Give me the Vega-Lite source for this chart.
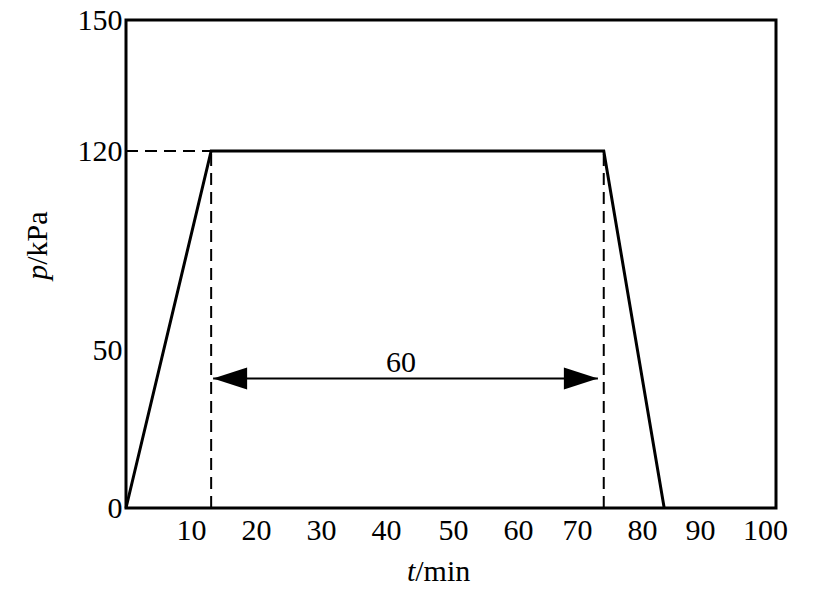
{
  "$schema": "https://vega.github.io/schema/vega-lite/v6.json",
  "width": 650,
  "height": 488,
  "autosize": {"type": "none"},
  "padding": {"left": 126, "top": 20, "right": 56, "bottom": 83},
  "background": "white",
  "config": {
    "view": {"stroke": "black", "strokeWidth": 3},
    "font": "Liberation Serif",
    "axis": {"grid": false, "ticks": false, "domain": false, "labelFont": "Liberation Serif", "labelFontSize": 30, "labelColor": "black", "labelFlush": false, "labelOverlap": false}
  },
  "datasets": {
    "profile": [
      {"t": 0, "p": 0},
      {"t": 13.1, "p": 120},
      {"t": 73.5, "p": 120},
      {"t": 82.8, "p": 0}
    ],
    "hdash": [
      {"t": 0, "t2": 13.1, "p": 120}
    ],
    "vdash": [
      {"t": 13.1, "p": 0, "p2": 120},
      {"t": 73.5, "p": 0, "p2": 120}
    ],
    "arrow": [
      {"t": 13.4, "t2": 72.6, "p": 41, "label": "60", "mid": 42.3}
    ]
  },
  "layer": [
    {
      "data": {"name": "profile"},
      "mark": {"type": "line", "color": "black", "strokeWidth": 3, "strokeJoin": "miter", "clip": false},
      "encoding": {
        "x": {"field": "t", "type": "quantitative",
          "scale": {"domain": [0, 100], "nice": false, "zero": false},
          "axis": {"title": null, "values": [10, 20, 30, 40, 50, 60, 70, 80, 90, 100], "labelPadding": 7, "labelFlush": false,
            "labelOffset": {"condition": [{"test": "datum.value >= 90", "value": -11}, {"test": "datum.value >= 70", "value": -4}, {"test": "datum.value >= 50", "value": 2}], "value": 0}}},
        "y": {"field": "p", "type": "quantitative",
          "scale": {"domain": [0, 50, 120, 150], "range": [488, 330, 131, 0], "nice": false, "zero": false},
          "axis": {"title": null, "values": [0, 50, 120, 150], "labelPadding": 4, "labelFlush": false}},
        "order": {"field": "t", "type": "quantitative"}
      }
    },
    {
      "data": {"name": "hdash"},
      "mark": {"type": "rule", "color": "black", "strokeWidth": 2, "strokeDash": [12, 7]},
      "encoding": {
        "x": {"field": "t", "type": "quantitative", "scale": {"domain": [0, 100], "nice": false, "zero": false}},
        "x2": {"field": "t2"},
        "y": {"field": "p", "type": "quantitative", "scale": {"domain": [0, 50, 120, 150], "range": [488, 330, 131, 0], "nice": false, "zero": false}}
      }
    },
    {
      "data": {"name": "vdash"},
      "mark": {"type": "rule", "color": "black", "strokeWidth": 2, "strokeDash": [12, 7]},
      "encoding": {
        "x": {"field": "t", "type": "quantitative", "scale": {"domain": [0, 100], "nice": false, "zero": false}},
        "y": {"field": "p", "type": "quantitative", "scale": {"domain": [0, 50, 120, 150], "range": [488, 330, 131, 0], "nice": false, "zero": false}},
        "y2": {"field": "p2"}
      }
    },
    {
      "data": {"name": "arrow"},
      "mark": {"type": "rule", "color": "black", "strokeWidth": 2},
      "encoding": {
        "x": {"field": "t", "type": "quantitative", "scale": {"domain": [0, 100], "nice": false, "zero": false}},
        "x2": {"field": "t2"},
        "y": {"field": "p", "type": "quantitative", "scale": {"domain": [0, 50, 120, 150], "range": [488, 330, 131, 0], "nice": false, "zero": false}}
      }
    },
    {
      "data": {"name": "arrow"},
      "mark": {"type": "point", "shape": "M 0 0 L 2 -0.65 L 2 0.65 Z", "size": 1156, "filled": true, "color": "black", "opacity": 1, "strokeWidth": 0},
      "encoding": {
        "x": {"field": "t", "type": "quantitative", "scale": {"domain": [0, 100], "nice": false, "zero": false}},
        "y": {"field": "p", "type": "quantitative", "scale": {"domain": [0, 50, 120, 150], "range": [488, 330, 131, 0], "nice": false, "zero": false}}
      }
    },
    {
      "data": {"name": "arrow"},
      "mark": {"type": "point", "shape": "M 0 0 L -2 -0.65 L -2 0.65 Z", "size": 1156, "filled": true, "color": "black", "opacity": 1, "strokeWidth": 0},
      "encoding": {
        "x": {"field": "t2", "type": "quantitative", "scale": {"domain": [0, 100], "nice": false, "zero": false}},
        "y": {"field": "p", "type": "quantitative", "scale": {"domain": [0, 50, 120, 150], "range": [488, 330, 131, 0], "nice": false, "zero": false}}
      }
    },
    {
      "data": {"name": "arrow"},
      "mark": {"type": "text", "font": "Liberation Serif", "fontSize": 30, "color": "black", "align": "center", "baseline": "alphabetic", "dy": -6},
      "encoding": {
        "x": {"field": "mid", "type": "quantitative", "scale": {"domain": [0, 100], "nice": false, "zero": false}},
        "y": {"field": "p", "type": "quantitative", "scale": {"domain": [0, 50, 120, 150], "range": [488, 330, 131, 0], "nice": false, "zero": false}},
        "text": {"field": "label"}
      }
    },
    {
      "data": {"values": [{}]},
      "mark": {"type": "text", "font": "Liberation Serif", "fontSize": 30, "fontStyle": "italic", "color": "black", "align": "right", "baseline": "middle", "clip": false},
      "encoding": {
        "x": {"datum": 44.5, "type": "quantitative", "scale": {"domain": [0, 100], "nice": false, "zero": false}},
        "y": {"datum": -20.2, "type": "quantitative", "scale": {"domain": [0, 50, 120, 150], "range": [488, 330, 131, 0], "nice": false, "zero": false}},
        "text": {"value": "t"}
      }
    },
    {
      "data": {"values": [{}]},
      "mark": {"type": "text", "font": "Liberation Serif", "fontSize": 30, "color": "black", "align": "left", "baseline": "middle", "clip": false},
      "encoding": {
        "x": {"datum": 44.5, "type": "quantitative", "scale": {"domain": [0, 100], "nice": false, "zero": false}},
        "y": {"datum": -20.2, "type": "quantitative", "scale": {"domain": [0, 50, 120, 150], "range": [488, 330, 131, 0], "nice": false, "zero": false}},
        "text": {"value": "/min"}
      }
    },
    {
      "data": {"values": [{}]},
      "mark": {"type": "text", "font": "Liberation Serif", "fontSize": 30, "fontStyle": "italic", "color": "black", "align": "right", "baseline": "middle", "angle": 270, "clip": false},
      "encoding": {
        "x": {"datum": -13.5, "type": "quantitative", "scale": {"domain": [0, 100], "nice": false, "zero": false}},
        "y": {"datum": 80, "type": "quantitative", "scale": {"domain": [0, 50, 120, 150], "range": [488, 330, 131, 0], "nice": false, "zero": false}},
        "text": {"value": "p"}
      }
    },
    {
      "data": {"values": [{}]},
      "mark": {"type": "text", "font": "Liberation Serif", "fontSize": 30, "color": "black", "align": "left", "baseline": "middle", "angle": 270, "clip": false},
      "encoding": {
        "x": {"datum": -13.5, "type": "quantitative", "scale": {"domain": [0, 100], "nice": false, "zero": false}},
        "y": {"datum": 80, "type": "quantitative", "scale": {"domain": [0, 50, 120, 150], "range": [488, 330, 131, 0], "nice": false, "zero": false}},
        "text": {"value": "/kPa"}
      }
    }
  ]
}
